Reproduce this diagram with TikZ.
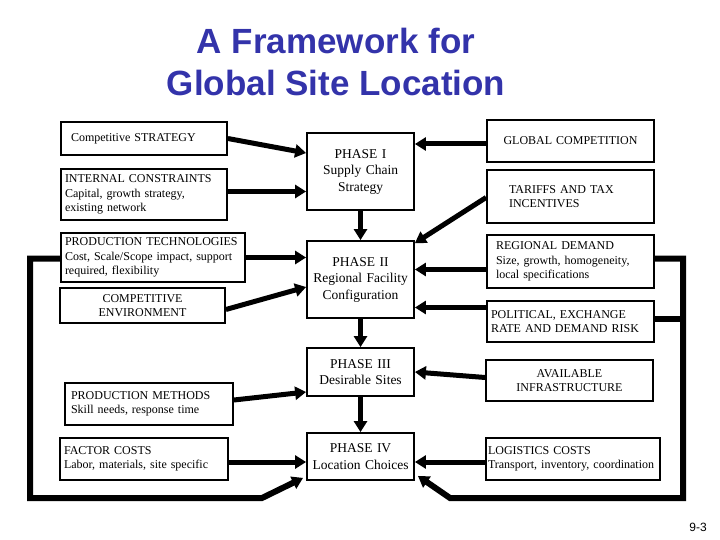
\documentclass[tikz,border=0pt]{standalone}
\usepackage{fontspec}
\setmainfont{Liberation Serif}
\newfontfamily\titlefont{Liberation Sans}
\usepackage{tikz}
\usetikzlibrary{arrows.meta}
\definecolor{titleblue}{RGB}{51,51,170}

\begin{document}
\begin{tikzpicture}[line join=miter,>={Triangle[length=11pt,width=13pt]},x=1pt,y=-1pt,
  sbox/.style={draw,line width=1.8pt,inner xsep=4pt,inner ysep=0pt,align=left,font=\fontsize{12}{14.5}\selectfont},
  pbox/.style={draw,line width=1.8pt,inner xsep=2pt,inner ysep=0pt,align=center,font=\fontsize{13.5}{16.5}\selectfont},
  flow/.style={line width=5pt,->},
  loopline/.style={line width=6pt}]
\useasboundingbox (0,0) rectangle (720,540);
% title
\node[anchor=base,text=titleblue,font=\titlefont\bfseries\fontsize{35}{40}\selectfont] (t1) at (336,54) {A Framework for};
\node[anchor=base,text=titleblue,font=\titlefont\bfseries\fontsize{35}{40}\selectfont] (t2) at (336,96) {Global Site Location};
% left factors
\node[sbox,minimum width=166pt,minimum height=33pt,text width=146pt,inner xsep=10pt] (cs) at (144,138.5) {Competitive STRATEGY};
\node[sbox,minimum width=166pt,minimum height=51pt,text width=158pt] (ic) at (144,194.5) {INTERNAL CONSTRAINTS\\Capital, growth strategy,\\existing network};
\node[sbox,minimum width=184pt,minimum height=49pt,text width=176pt] (pt) at (153,257.5) {PRODUCTION TECHNOLOGIES\\Cost, Scale/Scope impact, support\\required, flexibility};
\node[sbox,minimum width=165pt,minimum height=35pt,text width=157pt,align=center] (ce) at (142.5,305.5) {COMPETITIVE\\ENVIRONMENT};
\node[sbox,minimum width=168pt,minimum height=42pt,text width=156pt,inner xsep=6pt] (pm) at (149,404) {PRODUCTION METHODS\\Skill needs, response time};
\node[sbox,minimum width=168pt,minimum height=42pt,text width=160pt] (fc) at (144,459) {FACTOR COSTS\\Labor, materials, site specific};
% phases
\node[pbox,minimum width=107pt,minimum height=77pt,text width=103pt] (ph1) at (360.5,171.5) {PHASE I\\Supply Chain\\Strategy};
\node[pbox,minimum width=107pt,minimum height=77pt,text width=103pt] (ph2) at (360.5,279.5) {PHASE II\\Regional Facility\\Configuration};
\node[pbox,minimum width=107pt,minimum height=48pt,text width=103pt] (ph3) at (360.5,372) {PHASE III\\Desirable Sites};
\node[pbox,minimum width=107pt,minimum height=47pt,text width=103pt] (ph4) at (360.5,456.5) {PHASE IV\\Location Choices};
% right factors
\node[sbox,minimum width=167pt,minimum height=42pt,text width=159pt,align=center] (gc) at (570.5,141) {GLOBAL COMPETITION\\[2pt]};
\node[sbox,minimum width=167pt,minimum height=53pt,text width=123pt,inner xsep=22pt] (tt) at (570.5,196.5) {TARIFFS AND TAX\\INCENTIVES};
\node[sbox,minimum width=167pt,minimum height=53pt,text width=149pt,inner xsep=9pt] (rd) at (570.5,261.5) {REGIONAL DEMAND\\Size, growth, homogeneity,\\local specifications};
\node[sbox,minimum width=167pt,minimum height=41pt,text width=159pt] (pe) at (570.5,321.5) {POLITICAL, EXCHANGE\\RATE AND DEMAND RISK};
\node[sbox,minimum width=167pt,minimum height=41pt,text width=159pt,align=center] (ai) at (569.5,380.5) {AVAILABLE\\INFRASTRUCTURE};
\node[sbox,minimum width=174pt,minimum height=42pt,text width=170pt,inner xsep=2pt] (lc) at (573,459) {LOGISTICS COSTS\\Transport, inventory, coordination};
% page number
\node[font=\titlefont\fontsize{12}{14}\selectfont] (pg) at (698,527) {9-3};

% arrows into the phases
\draw[flow] (cs.east) -- ([yshift=18.5pt]ph1.west);
\draw[flow] ([yshift=3pt]ic.east) -- ([yshift=3pt]ic.east -| ph1.west);
\draw[flow] (pt.east) -- (pt.east -| ph2.west);
\draw[flow] ([yshift=-4pt]ce.east) -- ([yshift=-7.5pt]ph2.west);
\draw[flow] ([yshift=4pt]pm.east) -- ([yshift=-20pt]ph3.west);
\draw[flow] ([yshift=-3pt]fc.east) -- ([yshift=-3pt]fc.east -| ph4.west);
\draw[flow] ([yshift=-3pt]gc.west) -- ([yshift=-3pt]gc.west -| ph1.east);
\draw[flow] ([yshift=-1pt]tt.west) -- ([yshift=-3pt]ph2.north east);
\draw[flow] ([yshift=-8pt]rd.west) -- ([yshift=-8pt]rd.west -| ph2.east);
\draw[flow] ([yshift=14pt]pe.west) -- ([yshift=14pt]pe.west -| ph2.east);
\draw[flow] ([yshift=3pt]ai.west) -- (ph3.east);
\draw[flow] ([yshift=-3pt]lc.west) -- ([yshift=-3pt]lc.west -| ph4.east);
\draw[flow] (ph1) -- (ph2);
\draw[flow] (ph2) -- (ph3);
\draw[flow] (ph3) -- (ph4);

% feedback loops
\coordinate (lcorner) at (30,498);
\coordinate (lbend) at (262,498);
\coordinate (rcorner) at (683,498);
\coordinate (rbend) at (450,498);
\draw[loopline,->] ([yshift=-1pt]pt.west) -| (lcorner) -- (lbend) -- ([xshift=-3pt,yshift=3pt]ph4.south west);
\draw[loopline,->] ([yshift=3pt]rd.east) -| (rcorner) -- (rbend) -- ([xshift=3pt,yshift=5pt]ph4.south east);
\draw[loopline] ([yshift=3pt]pe.east) -- ([yshift=3pt]pe.east -| rcorner);
\end{tikzpicture}
\end{document}
